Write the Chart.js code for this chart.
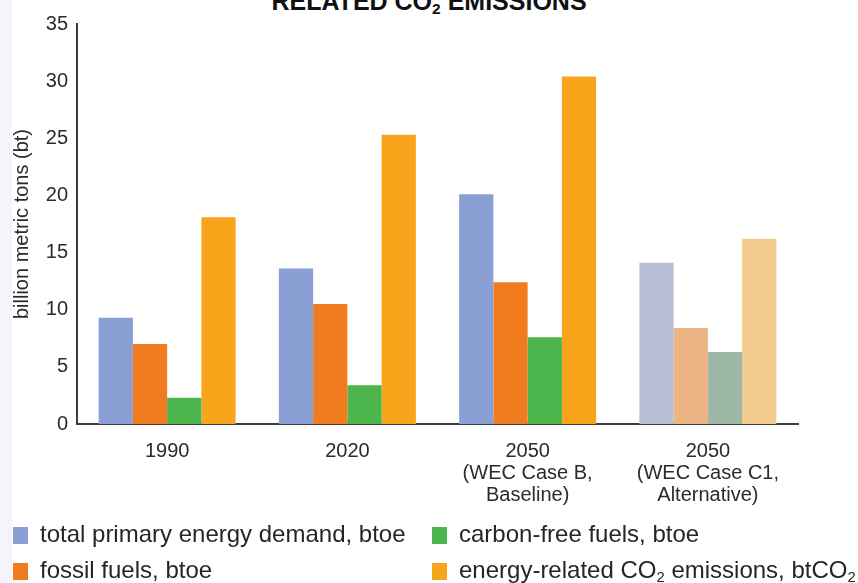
<!DOCTYPE html>
<html>
<head>
<meta charset="utf-8">
<script src="https://cdn.jsdelivr.net/npm/chart.js@4.4.1/dist/chart.umd.min.js"></script>
<style>
  html, body { margin: 0; padding: 0; background: #fff; }
  body { width: 858px; height: 583px; overflow: hidden; position: relative;
         font-family: "Liberation Sans", Arial, sans-serif; color: #262626; }
  .edge { position: absolute; left: 0; top: 0; width: 12px; height: 583px; background: #f4f5f9; }
  #wrap { position: absolute; left: 0; top: 0; width: 858px; height: 583px; }
  #title { position: absolute; left: 0; width: 858px; top: -12px; text-align: center;
           font-weight: bold; font-size: 25px; line-height: 26px; color: #111; white-space: nowrap; }
  #title sub, #legend sub { font-size: 0.62em; vertical-align: -0.25em; line-height: 0; }
  #legend { position: absolute; left: 13px; top: 516px; display: grid;
            grid-template-rows: repeat(2, 36px); grid-auto-flow: column;
            grid-template-columns: 419px auto; white-space: nowrap; }
  .item { font-size: 24px; line-height: 36px; }
  .swatch { display: inline-block; width: 15px; height: 17px; margin-right: 12px;
            position: relative; top: 2px; }
</style>
</head>
<body>
<div class="edge"></div>
<div id="title">RELATED CO<sub>2</sub> EMISSIONS</div>
<div id="wrap"><canvas id="chart"></canvas></div>
<div id="legend"></div>
<script>
// categories along the x axis (multi-line labels as arrays)
const categories = [
  '1990',
  '2020',
  ['2050', '(WEC Case B,', 'Baseline)'],
  ['2050', '(WEC Case C1,', 'Alternative)']
];

// billion metric tons
const primaryEnergy = [9.3, 13.6, 20.1, 14.1];
const fossilFuels   = [7.0, 10.5, 12.4, 8.4];
const carbonFree    = [2.3, 3.4, 7.6, 6.3];
const co2Emissions  = [18.1, 25.3, 30.4, 16.2];

const seriesNames = [
  'total primary energy demand, btoe',
  'fossil fuels, btoe',
  'carbon-free fuels, btoe',
  'energy-related CO₂ emissions, btCO₂'
];

// strong colour for the first three groups, washed-out colour for the alternative case
const strong = ['#8a9fd3', '#f07c1f', '#4cb54c', '#f9a51b'];
const faded  = ['#b7bdd3', '#ecb483', '#9db8a6', '#f2cc8e'];

function barColors(i) {
  return categories.map((c, k) => k === categories.length - 1 ? faded[i] : strong[i]);
}

const seriesValues = [primaryEnergy, fossilFuels, carbonFree, co2Emissions];

const chart = new Chart(document.getElementById('chart'), {
  type: 'bar',
  data: {
    labels: categories,
    datasets: seriesValues.map((vals, i) => ({
      label: seriesNames[i],
      data: vals,
      backgroundColor: barColors(i),
      borderWidth: 0,
      barPercentage: 1.0,
      categoryPercentage: 0.76
    }))
  },
  options: {
    responsive: true,
    maintainAspectRatio: false,
    animation: false,
    layout: { padding: { top: 24, right: 60, left: 0, bottom: 0 } },
    plugins: {
      legend: { display: false },
      tooltip: { enabled: false }
    },
    scales: {
      x: {
        grid: { display: false, drawTicks: false },
        border: { color: '#3c3c3c', width: 2 },
        ticks: {
          color: '#2a2a2a',
          padding: 16,
          maxRotation: 0,
          autoSkip: false,
          font: { family: 'Liberation Sans', size: 20, lineHeight: 1.1 }
        },
        afterFit(scale) { scale.height = 159; }
      },
      y: {
        min: 0,
        max: 35,
        grid: { display: false, drawTicks: false },
        border: { color: '#3c3c3c', width: 2 },
        ticks: {
          stepSize: 5,
          color: '#2a2a2a',
          padding: 9,
          font: { family: 'Liberation Sans', size: 20 }
        },
        title: {
          display: true,
          text: 'billion metric tons (bt)',
          color: '#2a2a2a',
          padding: { top: 10, bottom: 0 },
          font: { family: 'Liberation Sans', size: 20 }
        },
        afterFit(scale) { scale.width = 77; }
      }
    }
  }
});

// html legend, two columns
const legend = document.getElementById('legend');
chart.data.datasets.forEach((ds, i) => {
  const item = document.createElement('div');
  item.className = 'item';
  const sw = document.createElement('span');
  sw.className = 'swatch';
  sw.style.background = strong[i];
  item.appendChild(sw);
  const txt = document.createElement('span');
  txt.innerHTML = ds.label.replace(/₂/g, '<sub>2</sub>');
  item.appendChild(txt);
  legend.appendChild(item);
});
</script>
</body>
</html>
